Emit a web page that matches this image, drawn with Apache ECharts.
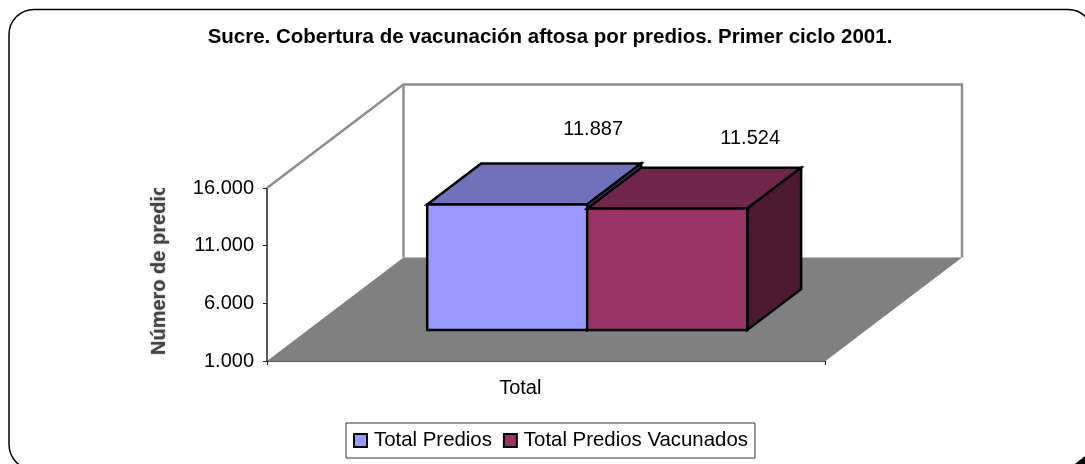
<!DOCTYPE html>
<html>
<head>
<meta charset="utf-8">
<style>html,body{margin:0;padding:0;background:#fff}#chart{width:1085px;height:464px}</style>
<script src="https://cdn.jsdelivr.net/npm/echarts@6/dist/echarts.min.js"></script>
</head>
<body>
<div id="chart"></div>
<script>
var categories = ['Total'];
var seriesNames = ['Total Predios', 'Total Predios Vacunados'];
var totalPredios = [11887];
var totalVacunados = [11524];
var yTicks = { min: 1000, max: 16000, interval: 5000 };

var FONT = '"Liberation Sans", Arial, sans-serif';
// fake 3d: how far the back wall sits from the axis plane, in px
var DEPTH_X = 136.5, DEPTH_Y = -103.5;
// bars sit between these fractions of the depth
var BAR_DEPTH_START = 0.3, BAR_DEPTH_END = 0.695;
// bar left edges and width as a fraction of the category band
var BAR_LEFT = [0.2135, 0.5], BAR_W = 0.2865;
var LABEL_OFFSET = [[86, -75], [83, -70]];

var chart = echarts.init(document.getElementById('chart'));

function floorItem(params, api) {
  var c = params.coordSys;
  var x0 = c.x, x1 = c.x + c.width, top = c.y, bot = c.y + c.height;
  var wallStyle = { stroke: '#8c8c8c', lineWidth: 2.4, fill: null };
  return {
    type: 'group',
    children: [
      { type: 'polygon', shape: { points: [[x0, bot], [x1, bot], [x1 + DEPTH_X, bot + DEPTH_Y], [x0 + DEPTH_X, bot + DEPTH_Y]] },
        style: { fill: '#808080' } },
      { type: 'polyline', shape: { points: [[x0, top], [x0 + DEPTH_X, top + DEPTH_Y], [x1 + DEPTH_X, top + DEPTH_Y], [x1 + DEPTH_X, bot + DEPTH_Y]] },
        style: wallStyle },
      { type: 'line', shape: { x1: x0 + DEPTH_X, y1: top + DEPTH_Y, x2: x0 + DEPTH_X, y2: bot + DEPTH_Y },
        style: wallStyle },
      // axis title, cut off by the plot like in the original
      { type: 'text', x: 159, y: 355, rotation: Math.PI / 2,
        clipPath: { type: 'rect', shape: { x: 0, y: -16, width: 167, height: 32 } },
        style: { text: 'Número de predios', fill: '#444', font: 'bold 20px ' + FONT, textAlign: 'left', textVerticalAlign: 'middle',
          textShadowColor: '#999', textShadowBlur: 2 } }
    ]
  };
}

function barRenderer(idx, colors) {
  return function (params, api) {
    var band = api.size([1, 0])[0];
    var c = params.coordSys;
    var base = api.coord([api.value(0), yTicks.min]);
    var topPt = api.coord([api.value(0), api.value(1)]);
    var dx = DEPTH_X * BAR_DEPTH_START, dy = DEPTH_Y * BAR_DEPTH_START;
    var x0 = c.x + band * BAR_LEFT[idx] + dx;
    var x1 = x0 + band * BAR_W;
    var yb = base[1] + dy, yt = topPt[1] + dy;
    var ox = DEPTH_X * (BAR_DEPTH_END - BAR_DEPTH_START), oy = DEPTH_Y * (BAR_DEPTH_END - BAR_DEPTH_START);
    var edge = { stroke: '#000', lineWidth: 2.5, lineJoin: 'miter' };
    function face(points, fill) {
      return { type: 'polygon', shape: { points: points }, style: Object.assign({ fill: fill }, edge) };
    }
    return {
      type: 'group',
      children: [
        face([[x0, yt], [x1, yt], [x1 + ox, yt + oy], [x0 + ox, yt + oy]], colors[1]),
        face([[x1, yt], [x1 + ox, yt + oy], [x1 + ox, yb + oy], [x1, yb]], colors[2]),
        face([[x0, yt], [x1, yt], [x1, yb], [x0, yb]], colors[0]),
        { type: 'text', x: (x0 + x1) / 2 + LABEL_OFFSET[idx][0], y: yt + LABEL_OFFSET[idx][1],
          style: { text: fmt(api.value(1)), fill: '#000', font: '20px ' + FONT, textAlign: 'center', textVerticalAlign: 'middle' } }
      ]
    };
  };
}

function fmt(v) {
  return String(v).replace(/\B(?=(\d{3})+$)/g, '.');
}

chart.setOption({
  animation: false,
  backgroundColor: '#fff',
  title: {
    text: 'Sucre. Cobertura de vacunación aftosa por predios. Primer ciclo 2001.',
    left: 545, top: 22, textAlign: 'center',
    textStyle: { fontFamily: FONT, fontSize: 20.5, fontWeight: 'bold', color: '#000' }
  },
  legend: {
    data: seriesNames,
    left: 346, top: 423,
    icon: 'rect', itemWidth: 13, itemHeight: 13, itemGap: 11,
    padding: [7.5, 7, 7.5, 7],
    backgroundColor: '#fff', borderColor: '#333', borderWidth: 1,
    selectedMode: false,
    itemStyle: { borderColor: '#000', borderWidth: 2 },
    textStyle: { fontFamily: FONT, fontSize: 20.4, color: '#000', padding: [0, 0, 0, 2] }
  },
  grid: { left: 267, top: 188, width: 558.5, height: 173 },
  xAxis: {
    type: 'category',
    data: categories,
    axisLine: { lineStyle: { color: '#222', width: 1.5 } },
    axisTick: { show: true, length: 4, lineStyle: { color: '#222' } },
    axisLabel: { fontFamily: FONT, fontSize: 20, color: '#000', margin: 17, padding: [0, 52, 0, 0] }
  },
  yAxis: {
    type: 'value',
    min: yTicks.min, max: yTicks.max, interval: yTicks.interval,
    splitLine: { show: false },
    axisLine: { show: true, lineStyle: { color: '#222', width: 1.5 } },
    axisTick: { show: true, length: 4, lineStyle: { color: '#222' } },
    axisLabel: { fontFamily: FONT, fontSize: 20, color: '#000', margin: 13, formatter: fmt }
  },
  series: [
    { type: 'custom', name: 'piso', silent: true, renderItem: floorItem, data: [[0, yTicks.min]], z: 1, clip: false },
    { type: 'custom', name: seriesNames[0], renderItem: barRenderer(0, ['#9999ff', '#7070bb', '#4d4d80']),
      data: totalPredios.map(function (v, i) { return [i, v]; }), z: 2,
      itemStyle: { color: '#9999ff', borderColor: '#000', borderWidth: 2 } },
    { type: 'custom', name: seriesNames[1], renderItem: barRenderer(1, ['#993366', '#70254a', '#4e1a33']),
      data: totalVacunados.map(function (v, i) { return [i, v]; }), z: 3,
      itemStyle: { color: '#993366', borderColor: '#000', borderWidth: 2 } }
  ],
  graphic: [
    { type: 'rect', silent: true, z: 0, shape: { x: 9, y: 9.5, width: 1084, height: 460, r: 25 },
      style: { fill: null, stroke: '#000', lineWidth: 1.5 } },
    { type: 'polygon', silent: true, z: 0, shape: { points: [[1075, 464], [1085, 456], [1085, 464]] }, style: { fill: '#000' } }
  ]
});
</script>
</body>
</html>
